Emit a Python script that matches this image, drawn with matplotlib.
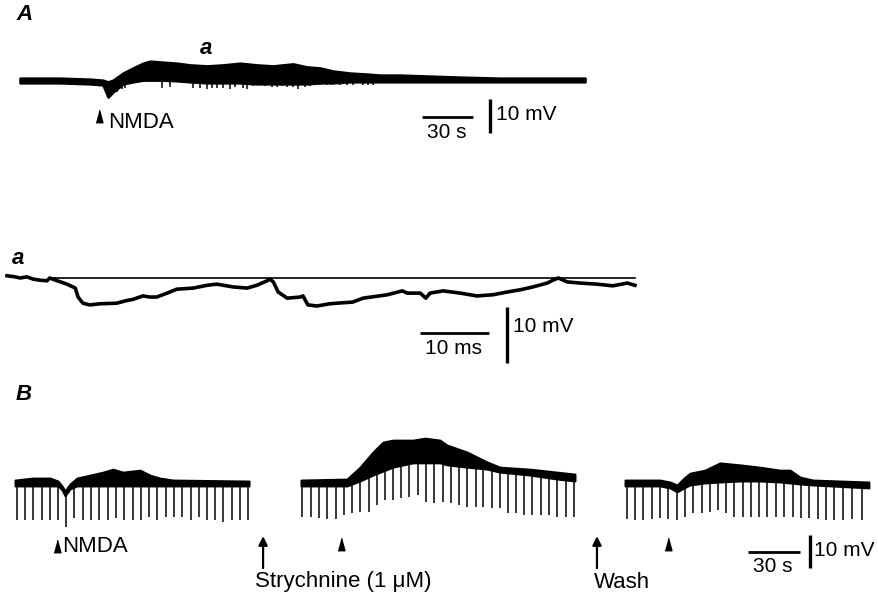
import numpy as np
import matplotlib
matplotlib.use("Agg")
import matplotlib.pyplot as plt

plt.rcParams['font.family'] = ['Liberation Sans', 'DejaVu Sans']

# ---- A: slow trace (s, mV relative to rest) ----
a_env_t = [0, 23.5, 41.2, 48.8, 51.8, 54.7, 60.6, 66.5, 72.4, 76.5, 84.1, 92.4, 100, 110,
           119.4, 129.4, 139.4, 148.8, 160.6, 168.8, 176.5, 184.1, 194.1, 204.1, 211.8,
           223.5, 241.2, 258.8, 282.4, 332.4]
a_env_hi = [0.7, 0.7, 0.4, 0.1, -0.4, 0.1, 2.2, 3.7, 5.1, 5.7, 5.4, 5.1, 4.6, 4.3, 4.6, 5.1,
            4.6, 4.3, 4.9, 4.0, 3.7, 2.8, 2.2, 1.9, 1.6, 1.6, 1.3, 1.0, 0.7, 0.7]
a_env_lo = [-0.7, -0.7, -1.0, -1.3, -4.9, -3.4, -1.0, -0.4, 0.1, 0.1, 0.1, -0.1, -0.4, -0.7,
            -0.7, -0.7, -1.0, -1.0, -1.0, -1.0, -0.7, -0.7, -0.4, -0.4, -0.4, -0.4, -0.4,
            -0.4, -0.4, -0.4]
a_spk_t = [54.1, 57.1, 60.0, 61.8, 83.5, 88.2, 101.8, 105.9, 110.0, 112.9, 115.9, 119.4,
           123.5, 126.5, 131.2, 133.5, 137.1, 141.2, 144.1, 148.2, 151.2, 154.1, 157.1,
           160.6, 163.5, 167.6, 170.6, 173.5, 176.5, 180.6, 183.5, 188.2, 192.4, 195.9,
           201.8, 204.7, 207.6]
a_spk_v = [-4.3, -3.4, -2.4, -2.2, -2.2, -2.0, -2.3, -2.3, -2.6, -2.3, -2.3, -2.3, -2.6,
           -2.0, -2.3, -2.6, -1.7, -1.2, -1.7, -2.0, -2.0, -1.7, -2.0, -2.0, -2.6, -2.0,
           -1.7, -1.2, -1.2, -1.2, -1.2, -1.4, -1.4, -1.4, -1.4, -1.4, -1.4]
a_nmda_t = 46.5

# ---- a: expanded sweep (ms, mV) ----
x_t = [0, 1.2, 1.9, 2.9, 3.8, 4.8, 5.8, 6.2, 7.3, 8.7, 9.9, 10.3, 11.0, 12.0, 13.5, 15.9,
       17.1, 18.3, 19.7, 20.7, 21.7, 23.2, 24.6, 27.0, 29.0, 30.4, 32.8, 34.8, 36.2, 37.7,
       38.1, 38.6, 39.3, 40.6, 42.5, 42.9, 43.6, 44.9, 46.8, 47.8, 50.1, 51.6, 55.1, 57.3,
       58.0, 59.9, 60.7, 61.3, 63.2, 65.7, 68.1, 70.4, 72.5, 74.4, 76.2, 78.3, 79.1, 79.9,
       81.2, 83.0, 85.5, 87.8, 89.9, 91.0]
x_v = [0.4, 0.2, 0.0, 0.2, -0.2, -0.4, -0.5, 0.0, -0.5, -1.1, -1.8, -3.4, -4.5, -4.8, -4.6,
       -4.5, -4.1, -3.8, -3.2, -3.4, -3.4, -2.7, -2.0, -1.8, -1.3, -1.1, -1.6, -1.8, -1.3,
       -0.5, -0.2, -0.7, -2.5, -3.6, -3.4, -3.2, -4.8, -5.0, -4.6, -4.5, -4.3, -3.6, -3.0,
       -2.3, -2.7, -2.7, -3.6, -2.7, -2.3, -2.7, -3.2, -3.0, -2.5, -2.1, -1.6, -0.9, -0.4,
       0.0, -0.7, -0.9, -1.1, -1.4, -0.9, -1.3]
x_ref_t = [6.2, 91.0]

# ---- B: three runs (s, mV) ----
b1_t = [0, 10.4, 20.2, 24.9, 27.2, 28.9, 31.8, 35.8, 43.4, 50.9, 56.6, 62.4, 72.3, 78.0,
        83.8, 91.3, 135.3]
b1_hi = [0.9, 1.5, 1.5, 0.6, -0.9, -2.4, -0.3, 1.5, 2.4, 3.3, 4.2, 3.3, 3.9, 2.4, 1.5,
         0.9, 0.6]
b1_lo = [-0.9, -0.9, -0.9, -0.9, -2.1, -3.9, -1.8, -0.9, -0.9, -0.9, -0.9, -0.9, -0.9,
         -0.9, -0.9, -0.9, -0.9]
b1_spk_t = [1.0, 5.8, 10.6, 15.4, 20.2, 24.7, 29.5, 34.1, 39.1, 43.8, 48.7, 53.6, 58.4,
            63.2, 68.0, 72.8, 77.5, 82.2, 87.1, 91.9, 96.7, 101.6, 106.4, 111.2, 115.6,
            120.4, 125.3, 130.1, 134.5]
b1_spk_v = [-11.2, -11.2, -11.2, -11.2, -11.2, -11.2, -13.3, -10.7, -11.2, -11.2, -11.2,
            -11.2, -10.7, -11.2, -11.2, -11.2, -10.2, -11.2, -10.2, -10.2, -10.2, -11.2,
            -10.2, -11.2, -11.2, -11.7, -11.2, -11.2, -11.2]

b2_t = [165.3, 191.9, 199.4, 206.9, 212.7, 218.5, 230.1, 237.0, 245.7, 249.7, 261.3, 272.8,
        280.3, 297.7, 313.3, 323.7]
b2_hi = [0.9, 1.2, 4.8, 9.4, 12.4, 13.0, 13.0, 13.6, 13.0, 11.5, 9.4, 6.4, 4.8, 4.2, 3.3,
         2.7]
b2_lo = [-0.9, -0.9, 0.6, 2.4, 3.6, 4.8, 6.1, 6.1, 6.1, 5.5, 4.8, 4.2, 3.3, 2.4, 1.2, 0.6]
b2_spk_t = [165.7, 170.9, 175.7, 180.5, 185.4, 190.2, 194.8, 199.4, 204.4, 209.2, 214.0,
            218.7, 223.3, 227.9, 232.9, 237.6, 242.4, 247.2, 252.0, 256.6, 261.4, 266.3,
            270.7, 275.5, 280.3, 284.9, 289.6, 294.4, 299.0, 303.9, 308.5, 313.5, 318.3,
            323.1]
b2_spk_v = [-10.3, -10.3, -10.6, -10.9, -10.9, -9.7, -9.1, -8.8, -8.8, -6.7, -5.2, -5.2,
            -4.5, -4.2, -3.6, -5.8, -6.1, -5.8, -6.1, -6.7, -7.3, -7.3, -7.3, -7.6, -7.6,
            -9.1, -9.1, -9.7, -9.7, -9.7, -9.7, -10.3, -10.3, -10.3]

b3_t = [352.6, 372.8, 378.6, 382.7, 386.7, 390.2, 398.8, 407.5, 419.1, 430.6, 442.2, 448.0,
        453.8, 461.3, 493.6]
b3_hi = [0.9, 0.9, 0.3, -0.6, 1.5, 3.0, 3.9, 6.1, 5.5, 4.8, 3.9, 3.9, 1.8, 0.9, 0.3]
b3_lo = [-0.9, -0.9, -1.5, -2.7, -1.5, -0.6, 0, 0.3, 0.6, 0.6, 0.3, 0, -0.3, -0.6, -1.5]
b3_spk_t = [353.6, 358.4, 363.2, 368.0, 372.8, 377.6, 382.5, 387.3, 392.1, 396.9, 401.7,
            406.4, 411.0, 415.8, 420.6, 425.3, 430.1, 434.9, 439.7, 444.5, 449.5, 454.3,
            459.1, 464.0, 468.8, 473.6, 478.8, 483.6, 489.4]
b3_spk_v = [-11.0, -11.2, -11.2, -11.0, -10.7, -11.0, -11.2, -10.2, -9.2, -9.2, -8.7, -8.2,
            -9.2, -10.2, -10.2, -10.2, -10.2, -10.2, -10.2, -10.2, -10.2, -10.7, -10.7,
            -11.0, -11.2, -11.2, -11.2, -11.0, -11.2]

b_nmda_t = [24.3, 188.4, 377.5]
b_drug_t = [143.4, 336.4]
b_drug_lbl = ["Strychnine (1 \u03bcM)", "Wash"]

W, H = 879, 595
fig = plt.figure(figsize=(W / 100, H / 100), dpi=100)


def trace_axes(x0, y0, sx, sy):
    # full-figure axes; data origin at pixel (x0, y0), sx/sy pixels per unit
    ax = fig.add_axes([0, 0, 1, 1])
    ax.set_xlim(-x0 / sx, (W - x0) / sx)
    ax.set_ylim((y0 - H) / sy, y0 / sy)
    ax.patch.set_alpha(0)
    ax.axis('off')
    return ax


def label(x, y, s, **kw):
    kw.setdefault('va', 'center')
    fig.text(x / W, 1 - y / H, s, **kw)


def band(ax, t, lo, hi, spk_t, spk_v, lw=1.4):
    ax.fill_between(t, lo, hi, color='k', lw=lw)
    top = np.interp(spk_t, t, (np.array(lo) + np.array(hi)) / 2)
    ax.vlines(spk_t, spk_v, top, color='k', lw=1.1)


tri = [(-0.55, -1), (0.55, -1), (0, 1)]

# A
axA = trace_axes(20, 80.5, 1.7, 3.4)
band(axA, a_env_t, a_env_lo, a_env_hi, a_spk_t, a_spk_v, lw=1.8)
axA.plot([a_nmda_t], [-10.4], marker=tri, ms=9, color='k', ls='none')
axA.plot([236.5, 266.5], [-10.7, -10.7], color='k', lw=2, solid_capstyle='butt')
axA.plot([276.5, 276.5], [-5.4, -15.4], color='k', lw=2.4, solid_capstyle='butt')
label(16, 15, "A", fontsize=16, fontstyle='italic', fontweight='bold')
label(200, 48, "a", fontsize=16, fontstyle='italic', fontweight='bold')
label(108, 123, "NMDA", fontsize=16)
label(447, 132, "30 s", fontsize=15, ha='center')
label(496, 115, "10 mV", fontsize=15)

# a
axa = trace_axes(7, 278, 6.9, 5.6)
axa.plot(x_ref_t, [0, 0], color='k', lw=1.2)
axa.plot(x_t, x_v, color='k', lw=2.6, solid_joinstyle='round')
axa.plot([59.9, 69.9], [-9.8, -9.8], color='k', lw=2, solid_capstyle='butt')
axa.plot([72.5, 72.5], [-5.2, -15.2], color='k', lw=2.4, solid_capstyle='butt')
label(12, 258, "a", fontsize=16, fontstyle='italic', fontweight='bold')
label(454, 349, "10 ms", fontsize=15, ha='center')
label(513, 326, "10 mV", fontsize=15)

# B
axB = trace_axes(15, 483, 1.73, 3.3)
band(axB, b1_t, b1_lo, b1_hi, b1_spk_t, b1_spk_v)
band(axB, b2_t, b2_lo, b2_hi, b2_spk_t, b2_spk_v)
band(axB, b3_t, b3_lo, b3_hi, b3_spk_t, b3_spk_v)
axB.plot(b_nmda_t, [-19.1, -18.5, -18.5], marker=tri, ms=9, color='k', ls='none')
for t in b_drug_t:
    axB.annotate('', xy=(t, -16.1), xytext=(t, -25.8),
                 arrowprops=dict(arrowstyle='-|>', color='k', lw=1.6,
                                 mutation_scale=13, shrinkA=0, shrinkB=0))
axB.plot([423.7, 453.7], [-20.9, -20.9], color='k', lw=2, solid_capstyle='butt')
axB.plot([459.5, 459.5], [-15.8, -25.8], color='k', lw=2.4, solid_capstyle='butt')
label(16, 395, "B", fontsize=16, fontstyle='italic', fontweight='bold')
label(62, 546, "NMDA", fontsize=16)
label(255, 582, b_drug_lbl[0], fontsize=16)
label(594, 582, b_drug_lbl[1], fontsize=16)
label(773, 566, "30 s", fontsize=15, ha='center')
label(814, 550, "10 mV", fontsize=15)

fig.savefig("out.png", dpi=100)
